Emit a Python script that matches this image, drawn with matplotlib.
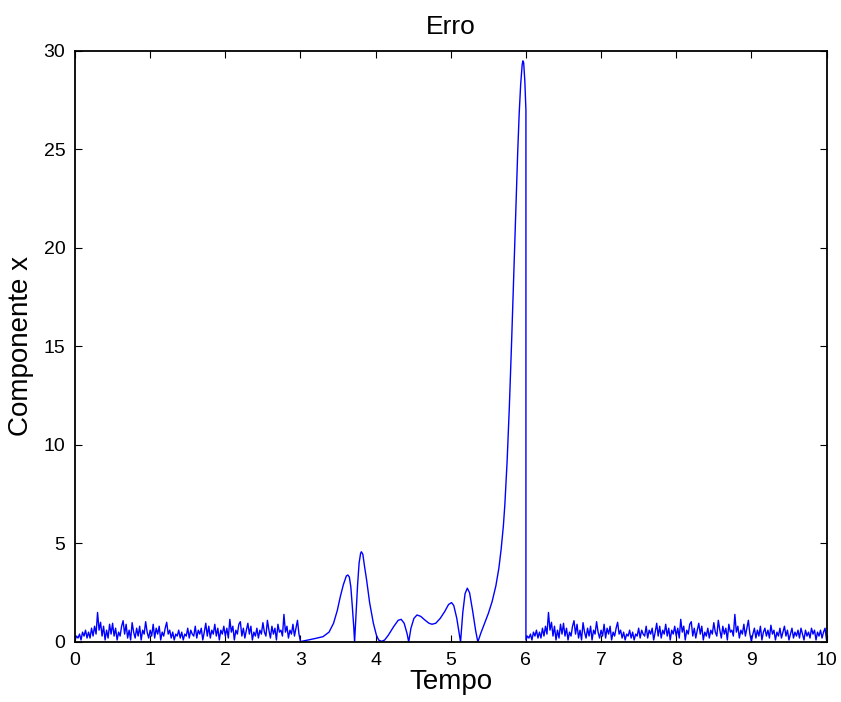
import numpy as np
import matplotlib
matplotlib.use("Agg")
import matplotlib.pyplot as plt

# ---- data ----
# noisy error, sampled every 0.02 s on [0, 3] (same pattern repeats on [6, 9])
noise_step = 0.02
noise_a = [
    0.1, 0.3, 0.2, 0.4, 0.1, 0.5, 0.3, 0.6, 0.2, 0.5,
    0.2, 0.7, 0.3, 0.8, 0.4, 1.5, 0.6, 1.0, 0.3, 0.8,
    0.1, 0.6, 0.2, 0.9, 0.4, 0.95, 0.3, 0.7, 0.1, 0.5,
    0.3, 0.8, 1.08, 0.4, 0.9, 0.2, 0.6, 0.1, 0.98, 0.5,
    0.2, 0.7, 0.3, 0.8, 0.1, 0.6, 0.4, 1.03, 0.5, 0.2,
    0.6, 0.3, 0.9, 0.2, 0.7, 0.4, 0.8, 0.1, 0.5, 0.3,
    0.7, 1.0, 0.4, 0.6, 0.2, 0.5, 0.1, 0.4, 0.3, 0.6,
    0.2, 0.5, 0.1, 0.4, 0.3, 0.7, 0.2, 0.6, 0.4, 0.3,
    0.8, 0.2, 0.6, 0.4, 0.7, 0.1, 0.5, 0.95, 0.3, 0.8,
    0.2, 0.6, 0.4, 0.9, 0.3, 0.7, 0.1, 0.6, 0.4, 0.8,
    0.3, 0.7, 0.2, 1.15, 0.5, 0.8, 0.1, 0.6, 0.4, 0.9,
    1.03, 0.3, 0.7, 0.2, 0.6, 0.95, 0.4, 0.8, 0.1, 0.5,
    0.3, 0.7, 0.2, 0.6, 0.4, 0.98, 0.5, 0.3, 1.1, 0.6,
    0.2, 0.8, 0.4, 0.7, 0.1, 0.9, 0.5, 0.6, 0.3, 1.4,
    0.5, 0.8, 0.2, 0.6, 0.4, 0.9, 0.3, 0.7, 1.1, 0.4,
    0.03,
]
# noisy error on (9, 10]
noise_b = [
    0.4, 0.7, 0.2, 0.6, 0.3, 0.8, 0.1, 0.5, 0.7, 0.3,
    0.6, 0.2, 0.85, 0.4, 0.6, 0.1, 0.5, 0.3, 0.7, 0.2,
    0.5, 0.8, 0.3, 0.6, 0.1, 0.4, 0.7, 0.2, 0.5, 0.3,
    0.6, 0.2, 0.7, 0.4, 0.1, 0.6, 0.3, 0.5, 0.2, 0.7,
    0.4, 0.6, 0.1, 0.5, 0.3, 0.6, 0.2, 0.5, 0.7, 0.1,
]
# smooth error between t = 3 and t = 6
t_smooth = [3.00, 3.10, 3.20, 3.30, 3.38, 3.44, 3.49, 3.53, 3.57, 3.61,
            3.63, 3.65, 3.67, 3.69, 3.71, 3.72, 3.74, 3.76, 3.78, 3.80,
            3.81, 3.83, 3.85, 3.88, 3.92, 3.97, 4.01, 4.04, 4.08, 4.12,
            4.17, 4.24, 4.30, 4.34, 4.38, 4.42, 4.44, 4.47, 4.51, 4.55,
            4.60, 4.66, 4.71, 4.75, 4.80, 4.86, 4.92, 4.97, 5.01, 5.04,
            5.08, 5.13, 5.16, 5.19, 5.22, 5.25, 5.29, 5.33, 5.36, 5.40,
            5.45, 5.50, 5.55, 5.60, 5.64, 5.67, 5.70, 5.72, 5.75, 5.78,
            5.81, 5.84, 5.87, 5.89, 5.91, 5.93, 5.95, 5.96, 5.97, 5.985,
            6.00]
v_smooth = [0.02, 0.10, 0.18, 0.27, 0.50, 0.95, 1.60, 2.30, 2.90, 3.35,
            3.40, 3.30, 2.80, 1.80, 0.70, 0.00, 1.40, 2.90, 4.00, 4.50,
            4.58, 4.45, 3.90, 3.15, 2.00, 0.95, 0.35, 0.10, 0.03, 0.10,
            0.35, 0.78, 1.10, 1.15, 0.95, 0.40, 0.00, 0.70, 1.20, 1.37,
            1.30, 1.10, 0.95, 0.90, 0.95, 1.20, 1.55, 1.90, 2.00, 1.85,
            1.20, 0.00, 1.50, 2.45, 2.73, 2.50, 1.60, 0.60, 0.00, 0.45,
            0.95, 1.45, 2.05, 2.85, 3.75, 4.70, 5.90, 7.00, 9.20, 12.00,
            15.30, 18.90, 22.50, 24.80, 26.80, 28.30, 29.30, 29.50, 29.40, 28.50,
            27.00]

x_ticks = [0, 1, 2, 3, 4, 5, 6, 7, 8, 9, 10]
y_ticks = [0, 5, 10, 15, 20, 25, 30]

# ---- assemble the trace ----
t_a = np.arange(len(noise_a)) * noise_step              # 0 .. 3
t_b = 9.0 + (np.arange(len(noise_b)) + 1) * noise_step  # 9.02 .. 10
t_all = np.concatenate([t_a, t_smooth, 6.0 + t_a, t_b])
v_all = np.concatenate([noise_a, v_smooth, noise_a, noise_b])

plt.rcParams['font.family'] = ['Liberation Sans', 'DejaVu Sans']

fig = plt.figure(figsize=(8.41, 7.02), dpi=100)
ax = fig.add_axes([0.0892, 0.0855, 0.8936, 0.8419])
ax.plot(t_all, v_all, color='#0000ff', linewidth=1.0)

ax.set_xlim(0, 10)
ax.set_ylim(0, 30)
ax.set_xticks(x_ticks)
ax.set_yticks(y_ticks)
ax.tick_params(direction='in', length=5, width=0.8, top=True, right=True,
               labelsize=14, pad=7)
for s in ax.spines.values():
    s.set_linewidth(1.3)
ax.set_title('Erro', fontsize=19, pad=12)
ax.set_xlabel('Tempo', fontsize=20, labelpad=0)
ax.set_ylabel('Componente x', fontsize=20, labelpad=7)

fig.savefig('out.png', dpi=100)
